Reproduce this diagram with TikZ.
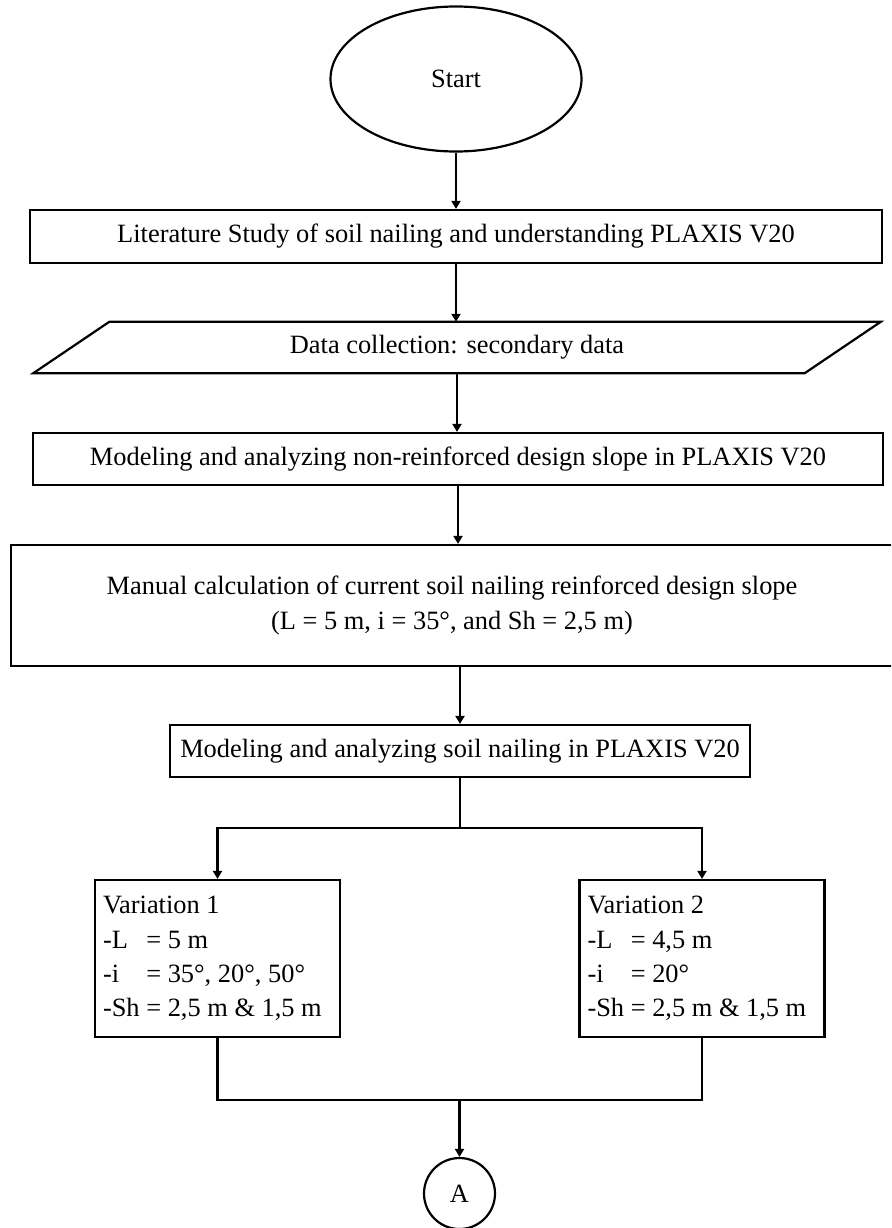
\documentclass[tikz,border=0pt]{standalone}
\usepackage{fontspec}
\setmainfont{Liberation Serif}
\usetikzlibrary{shapes.geometric,arrows.meta}
\begin{document}
\begin{tikzpicture}[x=1pt,y=-1pt,
  every node/.style={font=\fontsize{26.4}{34.4}\selectfont},
  line/.style={line width=2.2pt},
  arr/.style={line width=2.2pt,-{Triangle[length=8pt,width=9pt]}},
  box/.style={draw,line width=2.2pt,rectangle,inner sep=0pt,align=center},
  varbox/.style={draw,line width=2.2pt,rectangle,inner sep=0pt,align=left,
    text width=229pt,minimum width=245pt,minimum height=157pt}]
\useasboundingbox (0,0) rectangle (891,1228);
\clip (0,0) rectangle (891,1228);

\node[draw,ellipse,line width=2.2pt,minimum width=251pt,minimum height=145pt,inner sep=0pt] (start) at (456,79) {Start};

\node[box,minimum width=852pt,minimum height=53pt] (lit) at (456,236.5)
  {Literature Study of soil nailing and understanding PLAXIS V20};

\node[minimum width=771pt,minimum height=51pt,inner sep=0pt] (data) at (457,347.5)
  {Data collection: secondary data};
\draw[line] ([xshift=38pt]data.north west) -- ([xshift=38pt]data.north east)
  -- ([xshift=-38pt]data.south east) -- ([xshift=-38pt]data.south west) -- cycle;

\node[box,minimum width=850pt,minimum height=52pt] (m1) at (458,459)
  {Modeling and analyzing non-reinforced design slope in PLAXIS V20};

\node[box,minimum width=882pt,minimum height=121pt] (m2) at (452,605.5)
  {Manual calculation of current soil nailing reinforced design slope\\(L = 5 m, i = 35°, and Sh = 2,5 m)};

\node[box,minimum width=580pt,minimum height=52pt] (m3) at (460,751)
  {Modeling and analyzing soil nailing in PLAXIS V20};

\node[varbox] (v1) at (217.5,958.5)
  {\spaceskip=0pt\xspaceskip=0pt\relax
   \mbox{Variation 1}\\\mbox{\makebox[43.3pt][l]{-L}= 5 m}\\\mbox{\makebox[43.3pt][l]{-i}= 35°, 20°, 50°}\\\mbox{-Sh = 2,5 m \& 1,5 m}};
\node[varbox] (v2) at (702,958.5)
  {\spaceskip=0pt\xspaceskip=0pt\relax
   \mbox{Variation 2}\\\mbox{\makebox[43.3pt][l]{-L}= 4,5 m}\\\mbox{\makebox[43.3pt][l]{-i}= 20°}\\\mbox{-Sh = 2,5 m \& 1,5 m}};

\node[draw,circle,line width=2.2pt,minimum size=71pt,inner sep=0pt] (A) at (459.5,1193.5) {A};

\coordinate (split) at (460,828);
\coordinate (join) at (459.5,1100);

\draw[arr] (start.south) -- (lit.north);
\draw[arr] (lit.south) -- (lit.south |- data.north);
\draw[arr] (data.south) -- (data.south |- m1.north);
\draw[arr] (m1.south) -- (m1.south |- m2.north);
\draw[arr] (m2.south -| m3.north) -- (m3.north);
\draw[line] (m3.south) -- (split);
\draw[arr] (split) -| (v1.north);
\draw[arr] (split) -| (v2.north);
\draw[line] (v1.south) |- (join);
\draw[line] (v2.south) |- (join);
\draw[arr] (join) -- (A.north);
\end{tikzpicture}
\end{document}
